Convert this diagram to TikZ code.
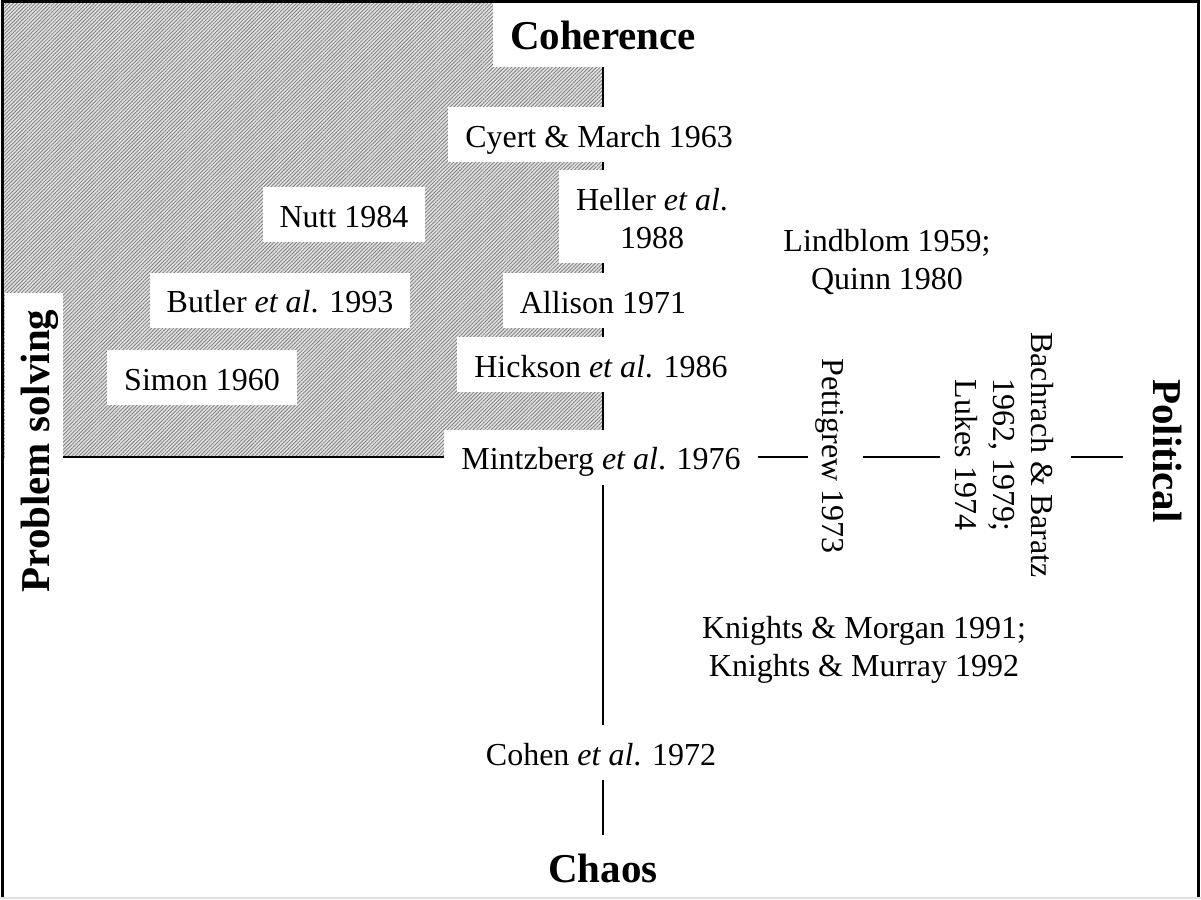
\documentclass[tikz,border=0pt]{standalone}
\usepackage{fontspec}
\setmainfont{Liberation Serif}
\usetikzlibrary{patterns.meta}
\pgfdeclarelayer{hatchlayer}
\pgfdeclarelayer{linelayer}
\pgfsetlayers{hatchlayer,linelayer,main}
\newcommand\mytop{\rule{0pt}{40pt}}
\newcommand\mybot{\rule[-15pt]{0pt}{15pt}}
\newcommand\bigtop{\rule{0pt}{47pt}}
\newcommand\bigbot{\rule[-17pt]{0pt}{17pt}}
\begin{document}
\begin{tikzpicture}[x=1pt,y=-1pt,
  lab/.style={fill=white, inner xsep=17pt, inner ysep=0pt, font=\fontsize{32}{38}\selectfont, align=center},
  head/.style={fill=white, inner xsep=17pt, inner ysep=0pt, font=\fontsize{41}{48}\selectfont\bfseries, align=center},
  axis/.style={line width=2.2pt},
  frame/.style={line width=3pt}]
\useasboundingbox (0,0) rectangle (1201,899);

% headings
\node[head] (coh) at (603,35) {\bigtop Coherence\bigbot};
\node[head] (chaos) at (603,867) {\bigtop Chaos\bigbot};
\node[head, rotate=90] (ps) at (34,451) {\rule{0pt}{44pt}Problem solving\rule[-14pt]{0pt}{14pt}};
\node[head, rotate=-90] (pol) at (1161.5,451) {\rule{0pt}{47pt}Political\rule[-30pt]{0pt}{30pt}};

% labels
\node[lab] (cyert) at (599,134.5) {\mytop Cyert \& March 1963\mybot};
\node[lab] (heller) at (652,216.5) {\mytop Heller \textit{et al}.\\1988\mybot};
\node[lab] (nutt) at (344,214.5) {\mytop Nutt 1984\mybot};
\node[lab] (lind) at (887,257.5) {\mytop Lindblom 1959;\\Quinn 1980\mybot};
\node[lab] (butler) at (280,300) {\mytop Butler \textit{et al}. 1993\mybot};
\node[lab] (allison) at (603,300.5) {\mytop Allison 1971\mybot};
\node[lab] (simon) at (202,377.5) {\mytop Simon 1960\mybot};
\node[lab] (hickson) at (601,364.5) {\mytop Hickson \textit{et al}. 1986\mybot};
\node[lab] (mintz) at (601,457) {\mytop Mintzberg \textit{et al}. 1976\mybot};
\node[lab, rotate=-90] (pett) at (835,456) {\mytop Pettigrew 1973\mybot};
\node[lab, rotate=-90] (bach) at (1005.5,455) {\mytop Bachrach \& Baratz\\1962, 1979;\\Lukes 1974\mybot};
\node[lab] (knights) at (864,645) {\mytop Knights \& Morgan 1991;\\Knights \& Murray 1992\mybot};
\node[lab] (cohen) at (601,752.5) {\mytop Cohen \textit{et al}. 1972\mybot};

% hatched quadrant
\begin{pgfonlayer}{hatchlayer}
  \fill[gray!22] (4,3) rectangle (603,457);
  \fill[pattern={Lines[angle=45,distance=2.6pt,line width=0.85pt]}, pattern color=black!50] (4,3) rectangle (603,457);
\end{pgfonlayer}

% axes
\begin{pgfonlayer}{linelayer}
  \draw[axis] (coh.south) -- (coh.south |- chaos.north);
  \draw[axis] (ps.south |- mintz.center) -- (pol.south |- mintz.center);
\end{pgfonlayer}

% frame
\draw[frame] (1198,899) -- (1198,1.5) -- (2.5,1.5) -- (2.5,899);
\draw[black!12, line width=1.5pt] (0,898.2) -- (1201,898.2);
\end{tikzpicture}
\end{document}
